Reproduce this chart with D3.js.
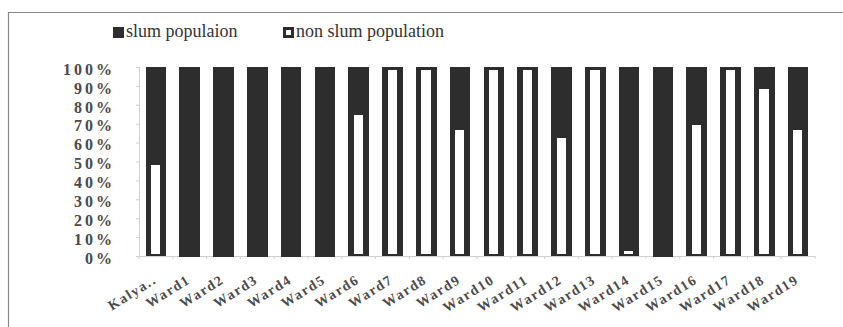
<!DOCTYPE html>
<html>
<head>
<meta charset="utf-8">
<script src="https://cdn.jsdelivr.net/npm/d3@7"></script>
<style>
  html, body { margin: 0; padding: 0; background: #fff; }
  svg { display: block; }
</style>
</head>
<body>
<svg id="chart" width="843" height="327"></svg>
<script>
// Share of population by ward (percent)
const categories = ["Kalya..", "Ward1", "Ward2", "Ward3", "Ward4", "Ward5", "Ward6", "Ward7", "Ward8", "Ward9",
  "Ward10", "Ward11", "Ward12", "Ward13", "Ward14", "Ward15", "Ward16", "Ward17", "Ward18", "Ward19"];
const nonSlum = [50, 0, 0, 0, 0, 0, 76, 100, 100, 68, 100, 100, 64, 100, 4, 0, 71, 100, 90, 68];
const slum = nonSlum.map(v => 100 - v);
const seriesNames = ["slum populaion", "non slum population"];
const yTicks = [0, 10, 20, 30, 40, 50, 60, 70, 80, 90, 100];

const rows = categories.map((c, i) => ({ c, non: nonSlum[i], slum: slum[i] }));
const dark = "#2d2d2d";
const serif = "'Liberation Serif', 'Times New Roman', serif";
const svg = d3.select("#chart");

// outer frame
svg.append("path")
  .attr("d", "M8.5,327 V12.5 H843")
  .attr("fill", "none").attr("stroke", "#8a8a8a").attr("stroke-width", 1.2);

const x = d3.scaleBand().domain(categories).range([139, 815]).paddingInner(0.39).paddingOuter(0.195);
const y = d3.scaleLinear().domain([0, 100]).range([256, 67]);

// axes
const yAxis = svg.append("g").attr("transform", "translate(139,0)")
  .call(d3.axisLeft(y).tickValues(yTicks).tickSize(3).tickFormat(d => d + "%"));
yAxis.select(".domain").attr("stroke", "#cfcfcf");
yAxis.selectAll(".tick line").attr("stroke", "#cfcfcf");
yAxis.selectAll(".tick text")
  .attr("x", -24).attr("dy", "0.45em")
  .attr("font-family", serif).attr("font-weight", "bold")
  .attr("font-size", 16).attr("letter-spacing", "3px").attr("fill", "#4a4a4a");

const xAxis = svg.append("g").attr("transform", "translate(0,256)")
  .call(d3.axisBottom(x).tickSize(0).tickSizeOuter(0));
xAxis.select(".domain").attr("stroke", "#cfcfcf");
xAxis.selectAll(".tick text")
  .attr("text-anchor", "end")
  .attr("font-family", serif).attr("font-weight", "bold")
  .attr("font-size", 14).attr("letter-spacing", "1.6px").attr("fill", "#4a4a4a")
  .attr("transform", "translate(-1,22) rotate(-32)")
  .attr("y", 0).attr("dy", "0.35em");
// small tick marks between categories
svg.append("g").selectAll("line").data(d3.range(categories.length + 1))
  .join("line")
  .attr("x1", i => 139 + i * x.step()).attr("x2", i => 139 + i * x.step())
  .attr("y1", 256).attr("y2", 259).attr("stroke", "#cfcfcf");

// bars
const bw = x.bandwidth();
const bars = svg.append("g").attr("shape-rendering", "crispEdges")
  .selectAll("g").data(rows).join("g");
// slum segment (top)
bars.append("rect")
  .attr("x", d => x(d.c)).attr("width", bw)
  .attr("y", d => y(d.non + d.slum))
  .attr("height", d => y(d.non) - y(d.non + d.slum) + 1)
  .attr("fill", dark);
// non slum segment (bottom): white with a dark frame
const nonBars = bars.filter(d => d.non > 0);
nonBars.append("rect")
  .attr("x", d => x(d.c)).attr("width", bw)
  .attr("y", d => y(d.non))
  .attr("height", d => y(0) - y(d.non))
  .attr("fill", dark);
nonBars.append("rect")
  .attr("x", d => x(d.c) + 5.5).attr("width", bw - 11.5)
  .attr("y", d => y(d.non) + 3)
  .attr("height", d => Math.max(0, y(0) - y(d.non) - 5.5))
  .attr("fill", "#fff");

// legend
const legend = svg.append("g");
const legendX = [113, 283];
seriesNames.forEach((name, i) => {
  const g = legend.append("g").attr("transform", `translate(${legendX[i]},27)`);
  g.append("rect").attr("width", 11).attr("height", 11).attr("fill", dark);
  if (i === 1) g.append("rect").attr("x", 3).attr("y", 3).attr("width", 5).attr("height", 5).attr("fill", "#fff");
  g.append("text").attr("x", 13).attr("y", 10)
    .attr("font-family", serif).attr("font-size", 18)
    .attr("fill", "#333").text(name);
});
</script>
</body>
</html>
